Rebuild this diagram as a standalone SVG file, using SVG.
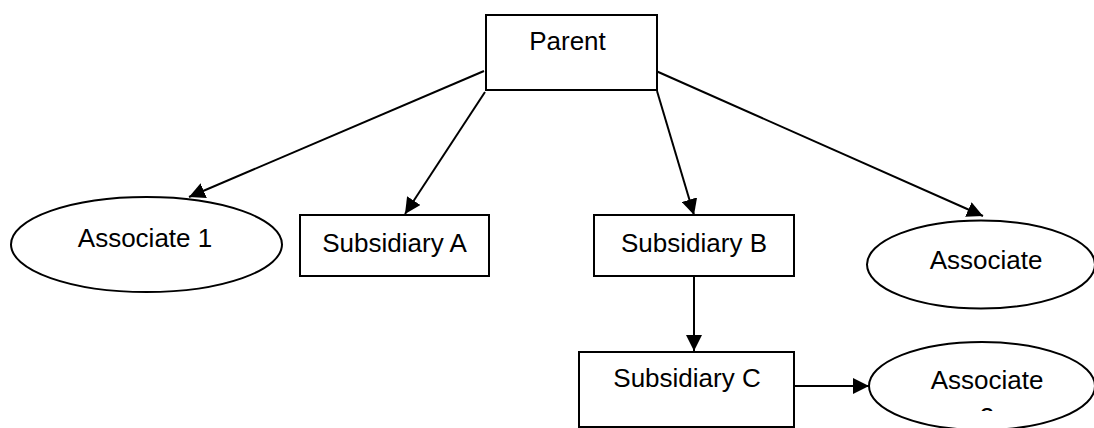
<svg xmlns="http://www.w3.org/2000/svg" width="1094" height="428" viewBox="0 0 1094 428">
<defs>
<style>
.box{fill:#fff;stroke:#000;stroke-width:2}
.lbl{font-family:"Liberation Sans",Arial,sans-serif;font-size:26px;fill:#000;text-anchor:middle}
.con{stroke:#000;stroke-width:2;fill:none;marker-end:url(#ah)}
</style>
<marker id="ah" markerUnits="userSpaceOnUse" markerWidth="17" markerHeight="16" refX="16" refY="8" orient="auto">
<path d="M0,0 L16,8 L0,16 z" fill="#000"/>
</marker>
<clipPath id="clipA2"><rect x="860" y="330" width="234" height="81"/></clipPath>
</defs>
<rect width="1094" height="428" fill="#fff"/>
<g id="connectors">
<line class="con" x1="484" y1="71" x2="189" y2="197"/>
<line class="con" x1="485" y1="92" x2="405" y2="214"/>
<line class="con" x1="657" y1="91" x2="694" y2="215"/>
<line class="con" x1="656" y1="71" x2="983" y2="216"/>
<line class="con" x1="694" y1="276" x2="694" y2="351"/>
<line class="con" x1="794" y1="386" x2="869" y2="386"/>
</g>
<g id="parent">
<rect class="box" x="486" y="15" width="171" height="75"/>
<text class="lbl" x="567.5" y="50">Parent</text>
</g>
<g id="associate1">
<ellipse class="box" cx="146.5" cy="244.5" rx="135.5" ry="47.5"/>
<text class="lbl" x="145" y="247">Associate 1</text>
</g>
<g id="subsidiaryA">
<rect class="box" x="300" y="215" width="189" height="61"/>
<text class="lbl" x="394.5" y="252">Subsidiary A</text>
</g>
<g id="subsidiaryB">
<rect class="box" x="594" y="215" width="200" height="61"/>
<text class="lbl" x="694" y="252">Subsidiary B</text>
</g>
<g id="associate">
<ellipse class="box" cx="981" cy="264.5" rx="114" ry="44"/>
<text class="lbl" x="986" y="269">Associate</text>
</g>
<g id="subsidiaryC">
<rect class="box" x="579" y="352" width="215" height="75"/>
<text class="lbl" x="687" y="387">Subsidiary C</text>
</g>
<g id="associate2">
<ellipse class="box" cx="982" cy="386" rx="113" ry="44"/>
<text class="lbl" x="987" y="389">Associate</text>
<text class="lbl" x="987" y="426" clip-path="url(#clipA2)">2</text>
</g>
</svg>
